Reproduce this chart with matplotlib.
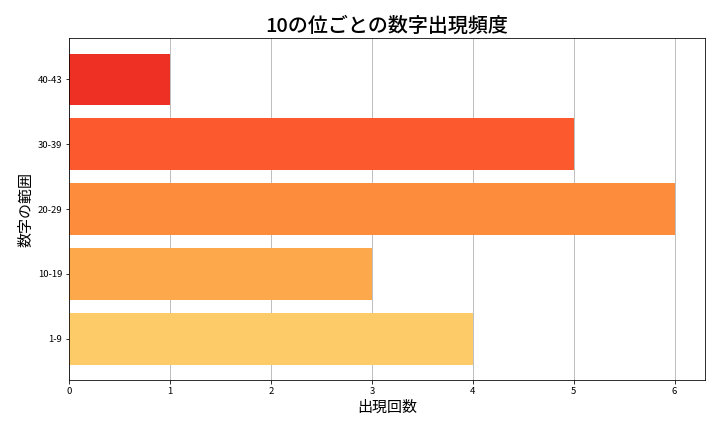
import matplotlib
matplotlib.use("Agg")
import matplotlib.pyplot as plt

plt.rcParams['font.family'] = ['Noto Sans CJK JP', 'DejaVu Sans']

categories = ["1-9", "10-19", "20-29", "30-39", "40-43"]
counts = [4, 3, 6, 5, 1]
colors = ["#FDCB68", "#FDA84A", "#FD8D3C", "#FC5A2E", "#EE3024"]

fig, ax = plt.subplots(figsize=(10, 6), dpi=72)
ax.barh(categories, counts, color=colors, height=0.8, zorder=2)
ax.set_xlim(0, max(counts) * 1.05)
ax.grid(axis='x', color='#b0b0b0', linewidth=0.8, zorder=0)
ax.set_axisbelow(True)
ax.set_title("10の位ごとの数字出現頻度", fontsize=20, fontweight='medium')
ax.set_xlabel("出現回数", fontsize=15)
ax.set_ylabel("数字の範囲", fontsize=15)
ax.tick_params(labelsize=9.5)
plt.subplots_adjust(left=0.096, right=0.979, top=0.912, bottom=0.12)
fig.savefig("out.png", dpi=72)
